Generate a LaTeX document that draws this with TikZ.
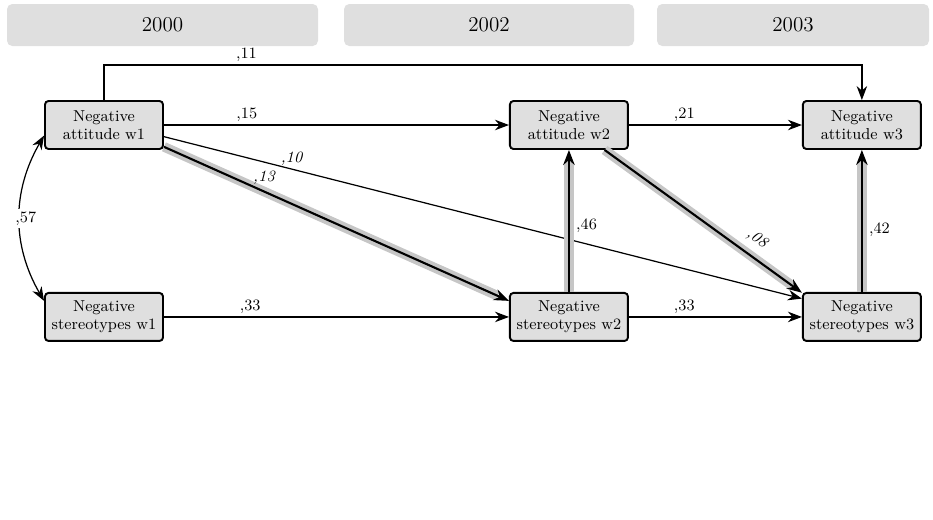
\documentclass[tikz,border=0pt]{standalone}
\usepackage{tikz}
\usetikzlibrary{arrows.meta,positioning}

\begin{document}
\begin{tikzpicture}[
    node distance=2.84cm and 6.9cm,
    var/.style={rectangle, draw, line width=1.1pt, rounded corners=2pt, fill=gray!25, minimum width=2.36cm, minimum height=0.96cm, inner sep=1pt, align=center, font=\fontsize{9}{10.5}\selectfont},
    year/.style={rectangle, rounded corners=3pt, fill=gray!25, minimum height=0.84cm, font=\fontsize{12}{14}\selectfont},
    arrow/.style={-{Stealth[length=2.8mm,width=2.1mm]}, line width=0.7pt},
    dblarrow/.style={{Stealth[length=2.8mm,width=2.1mm]}-{Stealth[length=2.8mm,width=2.1mm]}, line width=0.7pt},
    sigpath/.style={-{Stealth[length=3mm,width=2.3mm]}, line width=1.2pt, preaction={draw, -, gray!45, line width=5.5pt, shorten >=2.5mm}},
    coef/.style={font=\fontsize{9}{10}\selectfont, inner sep=1.5pt},
    coefit/.style={coef, font=\fontsize{9}{10}\selectfont\itshape}
]
\useasboundingbox (0,0) rectangle (18.66,-10.38);

% Waves
\node[year, minimum width=6.22cm] (y2000) at (3.25,-0.5) {2000};
\node[year, minimum width=5.8cm] (y2002) at (9.78,-0.5) {2002};
\node[year, minimum width=5.44cm] (y2003) at (15.86,-0.5) {2003};

% Attitude
\node[var] (na1) at (2.08,-2.5) {Negative\\attitude w1};
\node[var, right=of na1] (na2) {Negative\\attitude w2};
\node[var, right=3.46cm of na2] (na3) {Negative\\attitude w3};

% Stereotypes
\node[var, below=of na1] (ns1) {Negative\\stereotypes w1};
\node[var, below=of na2] (ns2) {Negative\\stereotypes w2};
\node[var, below=of na3] (ns3) {Negative\\stereotypes w3};

% Paths
\draw[arrow] (na1.north) -- ++(0,0.7) -| node[coef, pos=0.094, above] (l11) {,11} (na3.north);
\draw[arrow] (na1) -- node[coef, pos=0.24, above] (l15) {,15} (na2);
\draw[arrow] (na2) -- node[coef, pos=0.32, above] (l21) {,21} (na3);
\draw[arrow] (ns1) -- node[coef, pos=0.25, above] (l33a) {,33} (ns2);
\draw[arrow] (ns2) -- node[coef, pos=0.32, above] (l33b) {,33} (ns3);
\draw[arrow] (na1.-11) -- node[coefit, pos=0.2, above] (l10) {,10} (ns3.163);
\draw[sigpath] (na1.-20) -- node[coefit, pos=0.29, above=2pt] (l13) {,13} (ns2.165);
\draw[sigpath] (na2.-35) -- node[coefit, pos=0.72, above=4pt, sloped] (l08) {,08} (ns3.158);
\draw[sigpath] (ns2.north) -- node[coef, pos=0.47, right=2pt] (l46) {,46} (na2.south);
\draw[sigpath] (ns3.north) -- node[coef, pos=0.44, right=2pt] (l42) {,42} (na3.south);

% Correlation
\draw[dblarrow] (na1.190) to[out=240, in=120] node[coef, fill=white, pos=0.5, xshift=0.12cm] (l57) {,57} (ns1.165);

\end{tikzpicture}
\end{document}
